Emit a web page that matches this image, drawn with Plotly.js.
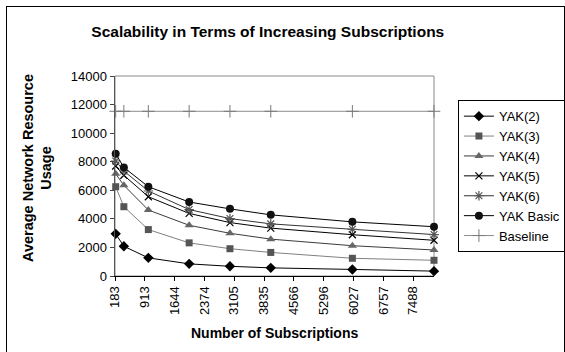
<!DOCTYPE html>
<html>
<head>
<meta charset="utf-8">
<script src="https://cdn.plot.ly/plotly-3.0.1.min.js"></script>
<style>
  html, body { margin: 0; padding: 0; background: #fff; }
  #wrap { position: relative; width: 565px; height: 352px; }
  #chart { position: absolute; left: 0; top: 0; width: 565px; height: 352px; }
  #frame { position: absolute; left: 6px; top: 6px; width: 557px; height: 350px;
           border: 1.5px solid #000; pointer-events: none; }
</style>
</head>
<body>
<div id="wrap">
  <div id="chart"></div>
  <div id="frame"></div>
</div>
<script>
// Number of subscriptions at which each configuration was measured
const subscriptions = [200, 400, 1000, 2000, 3000, 4000, 6000, 8000];

// Average network resource usage per configuration
const yak2     = [2950, 2080, 1270, 850, 680, 570, 460, 340];
const yak3     = [6250, 4850, 3250, 2320, 1910, 1650, 1240, 1100];
const yak4     = [7150, 6350, 4620, 3550, 2990, 2580, 2120, 1820];
const yak5     = [7700, 7050, 5550, 4380, 3740, 3350, 2890, 2500];
const yak6     = [8050, 7350, 5950, 4650, 4020, 3650, 3270, 2900];
const yakBasic = [8550, 7600, 6250, 5180, 4700, 4280, 3790, 3450];
const baseline = [11530, 11530, 11530, 11530, 11530, 11530, 11530, 11530];

// Category-style tick labels along the subscriptions axis
const xTickVals = [183, 913.5, 1644, 2374.5, 3105, 3835.5, 4566, 5296.5, 6027, 6757.5, 7488];
const xTickText = ['183', '913', '1644', '2374', '3105', '3835', '4566', '5296', '6027', '6757', '7488'];

const FONT = 'Arial, "Liberation Sans", sans-serif';

function series(name, y, lineColor, symbol, markerColor, size, lineW) {
  const open = symbol.indexOf('open') >= 0;
  return {
    type: 'scatter', mode: 'lines+markers', name: name,
    x: subscriptions, y: y,
    line: { color: lineColor, width: 1 },
    marker: open
      ? { symbol: symbol, size: size, color: markerColor, line: { color: markerColor, width: lineW || 1 } }
      : { symbol: symbol, size: size, color: markerColor, line: { width: 0 } },
    cliponaxis: false
  };
}

const traces = [
  series('YAK(2)', yak2, '#000000', 'diamond', '#000000', 8),
  series('YAK(3)', yak3, '#808080', 'square', '#555555', 7),
  series('YAK(4)', yak4, '#3c3c3c', 'triangle-up', '#666666', 8),
  series('YAK(5)', yak5, '#000000', 'x-thin-open', '#000000', 7, 1.2),
  series('YAK(6)', yak6, '#333333', 'asterisk-open', '#555555', 8, 1.2),
  series('YAK Basic', yakBasic, '#000000', 'circle', '#111111', 8),
  series('Baseline', baseline, '#8c8c8c', 'cross-thin-open', '#7a7a7a', 9, 1)
];

const layout = {
  width: 565, height: 352,
  margin: { l: 115, r: 131, t: 76, b: 76, autoexpand: false },
  paper_bgcolor: '#ffffff', plot_bgcolor: '#ffffff',
  font: { family: FONT, size: 13, color: '#000' },
  showlegend: true,
  title: {
    text: '<b>Scalability in Terms of Increasing Subscriptions</b>',
    font: { family: FONT, size: 15.5, color: '#000' },
    x: 0.474, xref: 'container', xanchor: 'center',
    y: 0.909, yref: 'container', yanchor: 'middle'
  },
  xaxis: {
    range: [183, 8000], autorange: false,
    tickmode: 'array', tickvals: xTickVals, ticktext: xTickText,
    tickangle: -90, ticks: 'outside', ticklen: 4, tickwidth: 1, tickcolor: '#000',
    tickfont: { family: FONT, size: 13, color: '#000' },
    showline: true, linecolor: '#000', linewidth: 1,
    showgrid: false, zeroline: false
  },
  yaxis: {
    range: [0, 14000], autorange: false, dtick: 2000, tickformat: 'd',
    ticks: 'outside', ticklen: 4, tickwidth: 1, tickcolor: '#444',
    tickfont: { family: FONT, size: 13, color: '#000' },
    showline: true, linecolor: '#555', linewidth: 1.5,
    showgrid: false, zeroline: false
  },
  shapes: [{
    type: 'rect', xref: 'paper', yref: 'paper', x0: 0, x1: 1, y0: 0, y1: 1,
    line: { color: '#8a8a8a', width: 1 }, layer: 'below'
  }],
  annotations: [
    {
      text: '<b>Average Network Resource<br>Usage</b>',
      xref: 'paper', yref: 'paper', x: -0.245, y: 0.539,
      xanchor: 'center', yanchor: 'middle', textangle: -90, showarrow: false,
      font: { family: FONT, size: 14.5, color: '#000' }
    },
    {
      text: '<b>Number of Subscriptions</b>',
      xref: 'paper', yref: 'paper', x: 0.5, y: -0.285,
      xanchor: 'center', yanchor: 'middle', showarrow: false,
      font: { family: FONT, size: 14, color: '#000' }
    }
  ],
  legend: {
    x: 1.075, xanchor: 'left', y: 0.879, yanchor: 'top',
    bordercolor: '#000', borderwidth: 1, bgcolor: '#fff',
    font: { family: FONT, size: 13, color: '#000' },
    tracegroupgap: 0, itemwidth: 30
  }
};

Plotly.newPlot('chart', traces, layout, { displayModeBar: false, staticPlot: true });
</script>
</body>
</html>
